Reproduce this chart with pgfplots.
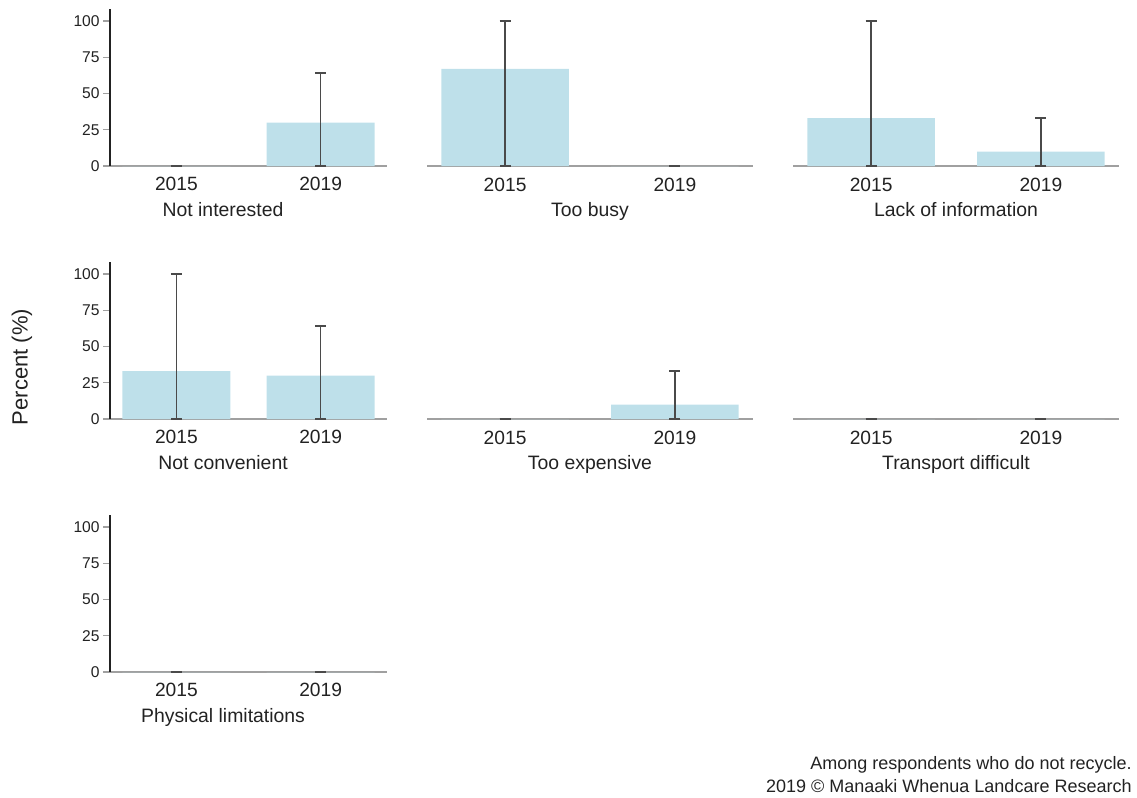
\documentclass[border=0pt]{standalone}
\usepackage{pgfplots}
\pgfplotsset{compat=1.18}
\usepackage{fontspec}
\setmainfont{Liberation Sans}

\definecolor{barblue}{HTML}{BEE0EA}
\definecolor{errgray}{HTML}{4A4A4A}
\definecolor{axisgray}{HTML}{A0A0A0}
\definecolor{txt}{HTML}{222222}

\pgfplotsset{
  panel/.style={
    scale only axis,
    height=78.3pt,
    ymin=0, ymax=108,
    xmin=-0.46, xmax=1.46,
    xtick={0,1}, xticklabels={2015,2019},
    major x tick style={draw=none},
    x axis line style={draw=axisgray, line width=1pt},
    xticklabel style={anchor=base, font=\fontsize{9.6pt}{11pt}\selectfont, text=txt, inner sep=0pt},
    xlabel style={anchor=base, yshift=-25pt, font=\fontsize{9.7pt}{11pt}\selectfont, text=txt, inner sep=0pt},
    ybar, bar width=0.75,
    clip=false,
  },
  leftpanel/.style={
    panel, width=138.5pt,
    axis x line*=bottom, axis y line*=left,
    y axis line style={draw=txt, line width=0.6pt},
    ytick={0,25,50,75,100},
    major y tick style={draw=axisgray, line width=0.6pt},
    tick align=outside, major tick length=3.5pt,
    /pgf/number format/assume math mode=true,
    yticklabel style={font=\fontsize{7.8pt}{9pt}\selectfont, text=txt, inner sep=1.5pt},
    xticklabel style={yshift=-8.5pt},
    xlabel style={at={(axis description cs:0.408,0)}},
  },
  rightpanel/.style={
    panel, width=163pt,
    axis x line*=bottom, axis y line=none,
    xticklabel style={yshift=-8.3pt},
    xlabel style={at={(axis description cs:0.5,0)}},
  },
  bars/.style={
    fill=barblue, draw=none,
    error bars/.cd,
      y dir=both, y explicit,
      error mark=|,
      error bar style={draw=errgray, line width=0.7pt},
      error mark options={draw=errgray, line width=1.1pt, mark size=2.75pt},
  },
}

\begin{document}
\begin{tikzpicture}
\path[use as bounding box] (0,0) rectangle (568.5pt,-399pt);

% Row 1
\begin{axis}[leftpanel, at={(55pt,-83pt)}, anchor=south west, xlabel={Not interested}]
\addplot[bars] coordinates {(0,0) += (0,0) -= (0,0) (1,30) += (0,34) -= (0,30)};
\end{axis}
\begin{axis}[rightpanel, at={(213.5pt,-83pt)}, anchor=south west, xlabel={Too busy}]
\addplot[bars] coordinates {(0,67) += (0,33) -= (0,67) (1,0) += (0,0) -= (0,0)};
\end{axis}
\begin{axis}[rightpanel, at={(396.5pt,-83pt)}, anchor=south west, xlabel={Lack of information}]
\addplot[bars] coordinates {(0,33) += (0,67) -= (0,33) (1,10) += (0,23) -= (0,10)};
\end{axis}

% Row 2
\begin{axis}[leftpanel, at={(55pt,-209.5pt)}, anchor=south west, xlabel={Not convenient}]
\addplot[bars] coordinates {(0,33) += (0,67) -= (0,33) (1,30) += (0,34) -= (0,30)};
\end{axis}
\begin{axis}[rightpanel, at={(213.5pt,-209.5pt)}, anchor=south west, xlabel={Too expensive}]
\addplot[bars] coordinates {(0,0) += (0,0) -= (0,0) (1,10) += (0,23) -= (0,10)};
\end{axis}
\begin{axis}[rightpanel, at={(396.5pt,-209.5pt)}, anchor=south west, xlabel={Transport difficult}]
\addplot[bars] coordinates {(0,0) += (0,0) -= (0,0) (1,0) += (0,0) -= (0,0)};
\end{axis}

% Row 3
\begin{axis}[leftpanel, at={(55pt,-336pt)}, anchor=south west, xlabel={Physical limitations}]
\addplot[bars] coordinates {(0,0) += (0,0) -= (0,0) (1,0) += (0,0) -= (0,0)};
\end{axis}

% Shared y label and notes
\node[rotate=90, text=txt, font=\fontsize{11pt}{13pt}\selectfont, inner sep=0pt] at (11pt,-183.5pt) {Percent (\%)};
\node[anchor=base east, text=txt, font=\fontsize{9pt}{11pt}\selectfont, inner sep=0pt] at (566pt,-384.5pt) {Among respondents who do not recycle.};
\node[anchor=base east, text=txt, font=\fontsize{9pt}{11pt}\selectfont, inner sep=0pt] at (566pt,-396pt) {2019 © Manaaki Whenua Landcare Research};
\end{tikzpicture}
\end{document}
